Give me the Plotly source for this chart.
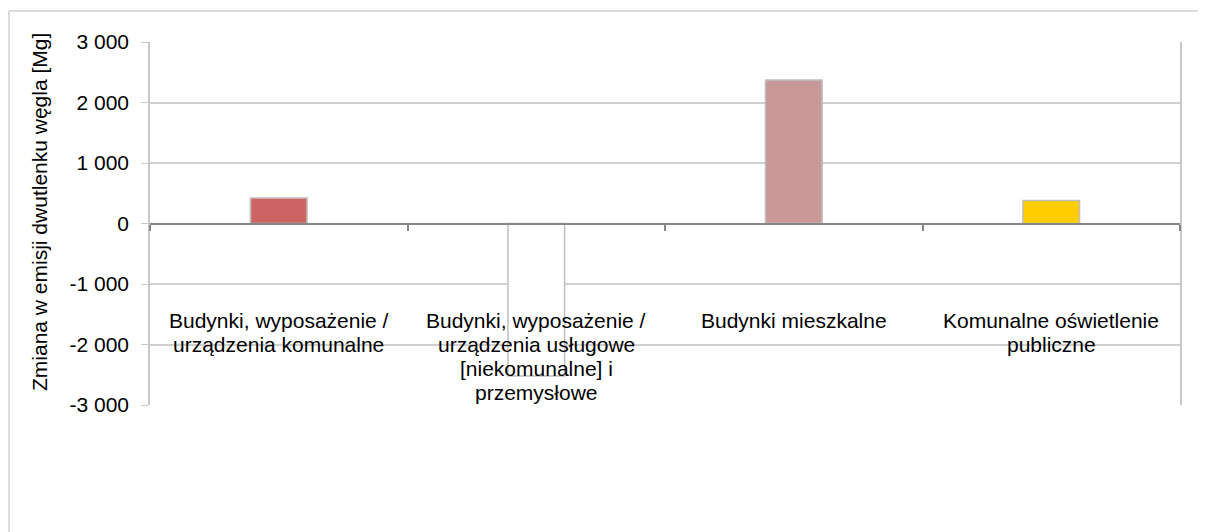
import plotly.graph_objects as go

CATEGORIES = [
    "Budynki, wyposażenie /<br>urządzenia komunalne",
    "Budynki, wyposażenie /<br>urządzenia usługowe<br>[niekomunalne] i<br>przemysłowe",
    "Budynki mieszkalne",
    "Komunalne oświetlenie<br>publiczne",
]
VALUES = [420, -2520, 2370, 380]
BAR_COLORS = ["#CD6464", "#FFFFFF", "#C99898", "#FFCC00"]
Y_TICKS = [-3000, -2000, -1000, 0, 1000, 2000, 3000]
Y_TITLE = "Zmiana w emisji dwutlenku węgla [Mg]"

# page body has an 8px default margin, so the figure is laid out 8px up/left
W, H = 1206, 532
ML, MR, MT, MB = 142, 34, 34, 135
Y_MIN, Y_MAX = -3000, 3000
FONT = "Liberation Sans, Arial, sans-serif"
FS = 21
LINE_H = 24


def fmt(v):
    return f"{v:,}".replace(",", " ")


x_idx = list(range(len(CATEGORIES)))
pw = W - ML - MR
ph = H - MT - MB

fig = go.Figure()
fig.add_trace(go.Bar(
    x=x_idx, y=VALUES,
    marker=dict(color=BAR_COLORS, line=dict(color="#BFBFBF", width=1.5)),
    width=0.22,
    hoverinfo="skip",
))

# category labels drawn inside the plot (one annotation per line for tighter spacing)
for i, label in enumerate(CATEGORIES):
    for k, line in enumerate(label.split("<br>")):
        fig.add_annotation(
            x=i, y=-1380, xref="x", yref="y", yshift=-LINE_H * k,
            text=line, showarrow=False, yanchor="top", xanchor="center",
            font=dict(family=FONT, size=FS, color="#000000"),
        )

# y-axis title
fig.add_annotation(
    x=(40 - 8 - ML) / pw, y=(397 - 204) / ph, xref="paper", yref="paper",
    text=Y_TITLE, textangle=-90, showarrow=False,
    xanchor="center", yanchor="middle",
    font=dict(family=FONT, size=FS, color="#000000"),
)

# outer chart frame (left and top edges visible)
fx0 = (1 - ML) / pw
fy1 = 1 + (MT - 3) / ph
fy0 = -(MB + 10) / ph
fig.add_shape(type="line", xref="paper", yref="paper", x0=fx0, x1=fx0, y0=fy0, y1=fy1,
              line=dict(color="#D0D0D0", width=1.5))
fig.add_shape(type="line", xref="paper", yref="paper", x0=fx0, x1=1 + (MR + 10) / pw, y0=fy1, y1=fy1,
              line=dict(color="#D0D0D0", width=1.5))

fig.update_layout(
    width=W, height=H,
    margin=dict(l=ML, r=MR, t=MT, b=MB),
    paper_bgcolor="white", plot_bgcolor="white",
    showlegend=False,
    font=dict(family=FONT, size=FS, color="#000000"),
    xaxis=dict(
        type="linear", range=[-0.5, len(CATEGORIES) - 0.5],
        tickvals=[i - 0.5 for i in range(len(CATEGORIES) + 1)],
        ticks="outside", ticklen=6, tickcolor="#868686", tickwidth=1.5,
        showticklabels=False, showgrid=False, zeroline=False,
        showline=True, linecolor="#868686", linewidth=2,
        anchor="free", position=(0 - Y_MIN) / (Y_MAX - Y_MIN),
    ),
    yaxis=dict(
        range=[Y_MIN, Y_MAX],
        tickvals=Y_TICKS, ticktext=[fmt(v) for v in Y_TICKS],
        ticks="outside", ticklen=7, tickcolor="#C8C8C8",
        ticklabelstandoff=8,
        showgrid=True, gridcolor="#D0D0D0", gridwidth=1.5,
        zeroline=False,
        showline=True, linecolor="#C8C8C8", linewidth=1.5, mirror=True,
        tickfont=dict(family=FONT, size=FS),
    ),
)

fig.write_html("out.html")
